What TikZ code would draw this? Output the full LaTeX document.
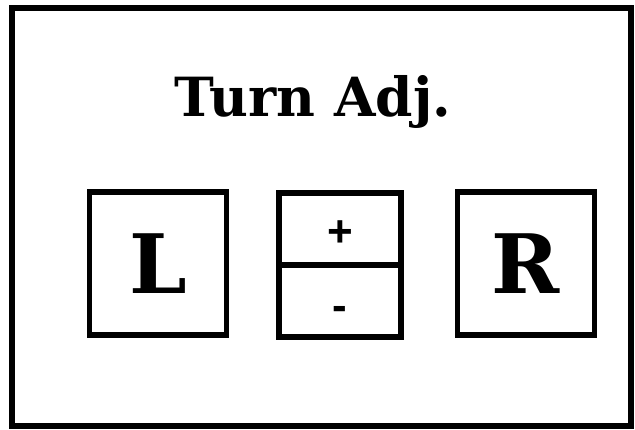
\documentclass[tikz,border=0pt]{standalone}
\usepackage{fontspec}
\setmainfont{DejaVu Serif}
\newfontfamily\plusfont{Liberation Sans}
\tikzset{
  keybox/.style={draw=black, line width=5.5pt, minimum width=137pt, minimum height=143pt, inner sep=0pt},
  halfbox/.style={draw=black, line width=5.5pt, minimum width=122pt, minimum height=72pt, inner sep=0pt},
  bigletter/.style={font=\fontsize{82}{82}\selectfont\bfseries},
  signtext/.style={font=\plusfont\fontsize{44}{44}\selectfont\bfseries}
}
\begin{document}
\begin{tikzpicture}[x=1pt,y=-1pt]
\useasboundingbox (0,0) rectangle (635,429);
\fill[white] (0,0) rectangle (635,429);
\draw[line width=6.5pt] (12,8) rectangle (631,426);
\node[anchor=base, font=\fontsize{54}{54}\selectfont\bfseries] (title) at (313,116) {\scalebox{0.99}[1]{Turn Adj.}};
\node[keybox] (lbox) at (158,263.5) {};
\node[anchor=base, bigletter] (ltext) at (lbox.center) [yshift=-30pt] {L};
\node[halfbox] (plus) at (340,229) {};
\node[halfbox] (minus) at (340,301) {};
\node[signtext] (plustext) at (plus.center) [yshift=-5pt] {+};
\node[signtext] (minustext) at (minus.center) [yshift=-12pt] {-};
\node[keybox] (rbox) at (526,263.5) {};
\node[anchor=base, bigletter] (rtext) at (rbox.center) [yshift=-30pt] {R};
\end{tikzpicture}
\end{document}
